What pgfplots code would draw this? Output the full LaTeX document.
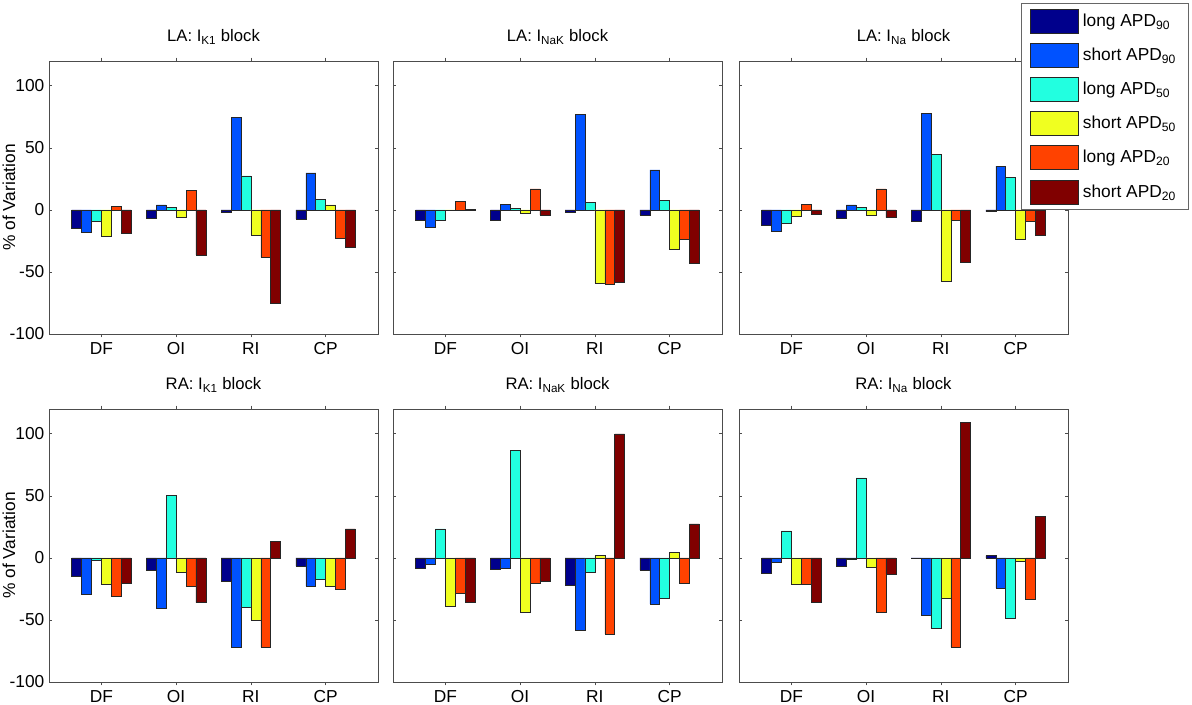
\documentclass[border=0pt]{standalone}
\usepackage{pgfplots}
\pgfplotsset{compat=1.18}
\usepackage{pgfplotstable}
\usepackage{fontspec}
\setmainfont{Liberation Sans}

\definecolor{cA}{RGB}{0,0,140}
\definecolor{cB}{RGB}{0,82,255}
\definecolor{cC}{RGB}{34,255,224}
\definecolor{cD}{RGB}{240,255,32}
\definecolor{cE}{RGB}{255,66,0}
\definecolor{cF}{RGB}{128,0,0}

% LA: IK1
\pgfplotstableread{
x a b c d e f
1 -14.8 -17.7 -9.4 -21.5 2.7 -18.8
2 -6.7 4.0 2.2 -6.2 15.6 -36.3
3 -1.9 74.7 27.4 -20.4 -38.2 -75.0
4 -7.3 29.8 8.6 4.0 -23.1 -30.4
}\tabLAK
% LA: INaK
\pgfplotstableread{
x a b c d e f
1 -8.6 -14.0 -8.1 0.0 7.0 0.5
2 -8.6 4.3 1.1 -3.0 16.9 -4.3
3 -2.2 76.9 5.9 -59.1 -59.9 -58.1
4 -4.3 32.3 7.5 -31.7 -23.7 -43.0
}\tabLANaK
% LA: INa
\pgfplotstableread{
x a b c d e f
1 -12.1 -17.5 -10.8 -4.8 4.6 -3.8
2 -6.7 4.0 2.2 -4.3 16.9 -6.2
3 -9.4 78.0 44.6 -57.3 -8.1 -41.9
4 -1.3 35.2 26.3 -23.4 -8.9 -20.4
}\tabLANa
% RA: IK1
\pgfplotstableread{
x a b c d e f
1 -14.8 -29.0 -1.9 -21.5 -30.6 -20.2
2 -9.9 -40.3 50.5 -11.8 -22.8 -36.0
3 -18.5 -72.3 -39.5 -50.3 -72.0 13.4
4 -6.7 -22.8 -17.5 -22.8 -25.3 23.4
}\tabRAK
% RA: INaK
\pgfplotstableread{
x a b c d e f
1 -8.6 -5.1 23.4 -38.7 -28.2 -35.8
2 -8.9 -8.1 86.6 -43.8 -20.4 -19.1
3 -22.3 -58.6 -11.3 1.9 -61.3 100.0
4 -9.9 -37.1 -32.3 4.3 -20.4 27.4
}\tabRANaK
% RA: INa
\pgfplotstableread{
x a b c d e f
1 -12.1 -3.8 21.8 -21.0 -21.2 -35.5
2 -6.5 -1.1 64.5 -7.8 -44.1 -12.9
3 0.0 -46.2 -56.5 -32.5 -71.8 109.1
4 1.9 -24.2 -48.4 -2.7 -33.6 33.3
}\tabRANa

\newcommand{\fnt}{\fontsize{13}{15}\selectfont}

\pgfplotsset{
  panel/.style={
    scale only axis,
    width=246.75pt, height=204.75pt,
    anchor=south west,
    xmin=0.3, xmax=4.7, ymin=-100, ymax=120,
    xtick={1,2,3,4}, xticklabels={DF,OI,RI,CP},
    ytick={-100,-50,0,50,100},
    tick align=inside,
    major tick length=2.5pt,
    axis line style={black!70, line width=0.6pt},
    every tick/.style={black!70, line width=0.5pt},
    /pgf/number format/assume math mode=true,
    tick label style={font=\fnt},
    xticklabel style={anchor=base, yshift=-13pt, inner ysep=0pt},
    title style={font=\fontsize{12.5}{14}\selectfont, at={(axis description cs:0.5,1)}, anchor=base, yshift=8.5pt},
    ylabel style={font=\fnt},
    ybar=0pt, bar width=7.43pt,
    every axis plot/.append style={draw=black!85, line width=0.4pt},
  },
  noy/.style={yticklabels={}},
  withy/.style={ylabel={\% of Variation},
    ylabel style={at={(axis description cs:-0.1216,0.5)}, anchor=center}},
}

\newcommand{\bars}[1]{%
  \addplot[fill=cA] table[x=x,y=a]{#1};
  \addplot[fill=cB] table[x=x,y=b]{#1};
  \addplot[fill=cC] table[x=x,y=c]{#1};
  \addplot[fill=cD] table[x=x,y=d]{#1};
  \addplot[fill=cE] table[x=x,y=e]{#1};
  \addplot[fill=cF] table[x=x,y=f]{#1};
}

\begin{document}
\begin{tikzpicture}
\useasboundingbox (0,0) rectangle (894pt,528.75pt);

\begin{axis}[panel, withy, at={(36.75pt,278.25pt)}, title={LA: I\textsubscript{K1} block}]
\bars{\tabLAK}
\end{axis}

\begin{axis}[panel, noy, at={(294.75pt,278.25pt)}, title={LA: I\textsubscript{NaK} block}]
\bars{\tabLANaK}
\end{axis}

\begin{axis}[panel, noy, at={(554.25pt,278.25pt)}, title={LA: I\textsubscript{Na} block},
  legend cell align=left,
  legend style={at={(axis description cs:1.368,1.212)}, anchor=north east,
    font=\fnt, draw=black!60, line width=0.6pt, fill=white,
    row sep=7.2pt, inner xsep=6.5pt, inner ysep=4pt,
    nodes={inner xsep=3pt, inner ysep=0pt}},
  legend image code/.code={\draw[#1] (0pt,-9pt) rectangle (36pt,9pt);},
  ]
\bars{\tabLANa}
\legend{long APD\textsubscript{90}, short APD\textsubscript{90}, long APD\textsubscript{50}, short APD\textsubscript{50}, long APD\textsubscript{20}, short APD\textsubscript{20}}
\end{axis}

\begin{axis}[panel, withy, at={(36.75pt,17.25pt)}, title={RA: I\textsubscript{K1} block}]
\bars{\tabRAK}
\end{axis}

\begin{axis}[panel, noy, at={(294.75pt,17.25pt)}, title={RA: I\textsubscript{NaK} block}]
\bars{\tabRANaK}
\end{axis}

\begin{axis}[panel, noy, at={(554.25pt,17.25pt)}, title={RA: I\textsubscript{Na} block}]
\bars{\tabRANa}
\end{axis}
\end{tikzpicture}
\end{document}
